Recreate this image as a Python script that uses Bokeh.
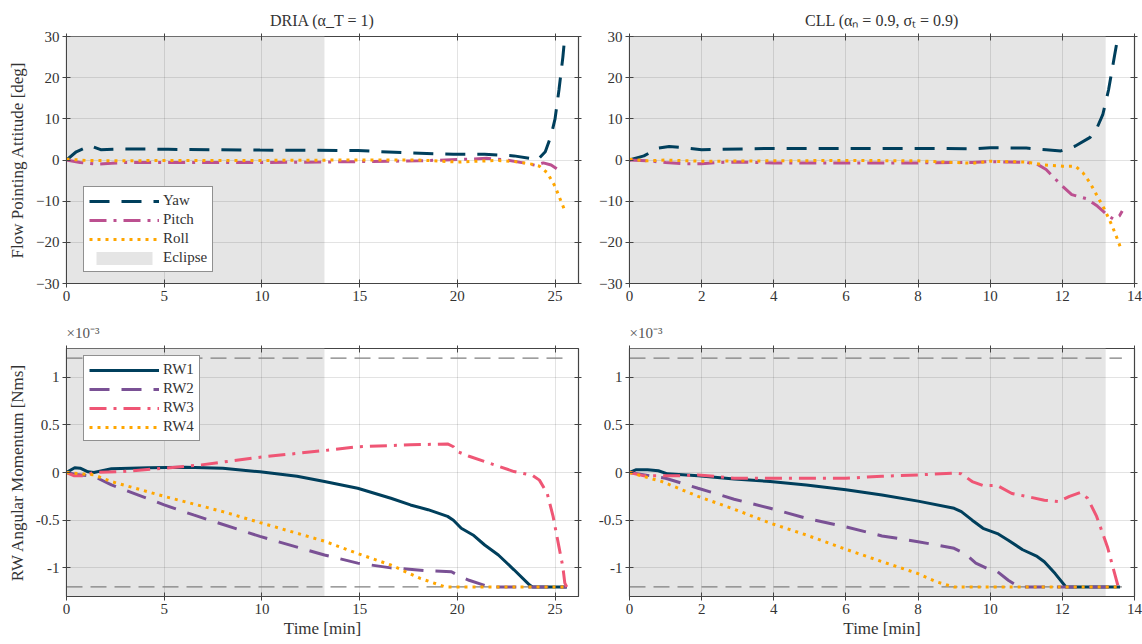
from bokeh.plotting import figure
from bokeh.models import (Range1d, FixedTicker, LinearAxis, Legend, LegendItem, Title)
from bokeh.layouts import column, row
from bokeh.embed import file_html
from bokeh.resources import INLINE

# ---------------- data ----------------
# Flow pointing attitude [deg] -- DRIA
dria_yaw_t = [0, 0.5, 1.2, 1.75, 2.9, 5.2, 9.9, 14.9, 17.6, 19.8, 21.4, 22.9, 23.8, 24.1, 24.5, 24.8, 25.0, 25.2, 25.4, 25.5, 25.6]
dria_yaw = [0, 2.0, 3.5, 2.5, 2.7, 2.6, 2.4, 2.3, 1.7, 1.4, 1.4, 1.0, 0.3, 0.0, 2.0, 6.0, 10.0, 17.0, 25.0, 30.0, 34.0]
dria_pitch_t = [0, 0.7, 1.5, 2.3, 3, 5, 10, 13, 15, 18, 20, 21.5, 22.5, 23.5, 24.0, 24.4, 24.8, 25.3]
dria_pitch = [0, -0.6, -1.0, -0.8, -0.6, -0.6, -0.6, -0.5, -0.4, -0.2, 0.1, 0.4, 0.0, -0.8, -1.3, -0.7, -1.2, -2.8]
dria_roll_t = [0, 1, 3, 5, 10, 15, 18, 20, 21, 22, 23, 23.8, 24.2, 24.6, 25.0, 25.2, 25.5]
dria_roll = [0.2, -0.1, -0.2, -0.1, -0.1, 0, 0, -0.5, -0.3, -0.1, -0.4, -1.0, -1.5, -3.1, -6.4, -8.8, -12.3]

# Flow pointing attitude [deg] -- CLL
cll_yaw_t = [0, 0.4, 0.8, 1.1, 1.4, 2.0, 2.4, 3.9, 6.5, 8.5, 9.5, 10.0, 11.0, 11.55, 11.96, 12.36, 12.77, 12.97, 13.12, 13.28, 13.44, 13.54, 13.6]
cll_yaw = [0, 1.0, 2.9, 3.3, 3.1, 2.5, 2.6, 2.8, 2.8, 2.8, 2.7, 3.0, 2.9, 2.5, 2.2, 3.4, 5.5, 8.0, 11, 17, 25, 30, 34]
cll_pitch_t = [0, 0.5, 1.0, 1.5, 2.0, 2.5, 3.0, 4, 6, 8, 9.5, 10, 10.5, 11, 11.3, 11.55, 11.96, 12.26, 12.67, 12.97, 13.28, 13.43, 13.58, 13.66]
cll_pitch = [0, -0.2, -0.6, -0.9, -0.9, -0.6, -0.5, -0.7, -0.7, -0.7, -0.6, -0.4, -0.5, -0.6, -1.0, -2.3, -6.0, -8.4, -9.4, -11.2, -13.6, -14.4, -13.6, -12.4]
cll_roll_t = [0, 0.5, 1, 2, 4, 6, 8, 9.5, 10, 11, 11.5, 12, 12.36, 12.57, 12.77, 12.97, 13.17, 13.38, 13.53, 13.63]
cll_roll = [0.2, -0.2, 0, -0.3, -0.2, -0.1, -0.2, -0.8, -0.3, -0.5, -1.2, -1.5, -1.5, -3.1, -5.6, -8.8, -12, -16, -19.3, -21.7]

# RW angular momentum [x1e-3 Nms] -- DRIA
dria_rw1_t = [0, 0.42, 0.7, 1.1, 1.4, 2.3, 4.2, 6.1, 8.0, 9.9, 11.8, 13.2, 14.9, 16.6, 17.6, 18.5, 19.5, 19.8, 20.2, 20.8, 21.4, 22.1, 22.9, 23.7, 23.85, 25.6]
dria_rw1 = [0, 0.05, 0.045, 0.007, 0, 0.04, 0.05, 0.055, 0.045, 0.007, -0.04, -0.095, -0.165, -0.27, -0.34, -0.39, -0.46, -0.5, -0.585, -0.655, -0.76, -0.865, -1.02, -1.18, -1.2, -1.2]
dria_rw2_t = [0, 0.5, 1.4, 2.3, 5.0, 6.5, 9.9, 13.2, 14.9, 16.6, 18.5, 19.7, 20.0, 20.6, 21.2, 21.6, 25.6]
dria_rw2 = [0, -0.02, -0.04, -0.13, -0.34, -0.445, -0.67, -0.865, -0.95, -1.0, -1.03, -1.04, -1.075, -1.13, -1.17, -1.2, -1.2]
dria_rw3_t = [0, 0.4, 0.9, 1.4, 2.9, 5.0, 6.9, 9.9, 13.2, 14.9, 17.6, 19.5, 19.8, 20.0, 20.6, 21.4, 22.9, 23.85, 24.2, 24.6, 24.9, 25.2, 25.4, 25.5, 25.6]
dria_rw3 = [0, -0.035, -0.035, 0, 0.01, 0.045, 0.08, 0.16, 0.23, 0.27, 0.29, 0.3, 0.27, 0.22, 0.17, 0.115, 0.01, -0.03, -0.08, -0.22, -0.46, -0.78, -0.99, -1.16, -1.2]
dria_rw4_t = [0, 1.4, 2.3, 5.0, 8.0, 9.9, 13.2, 14.9, 16.6, 18.1, 19.1, 19.4, 25.6]
dria_rw4 = [0, -0.025, -0.095, -0.25, -0.41, -0.525, -0.72, -0.85, -0.97, -1.11, -1.18, -1.2, -1.2]

# RW angular momentum [x1e-3 Nms] -- CLL
cll_rw1_t = [0, 0.19, 0.5, 0.8, 1.05, 1.9, 2.9, 3.9, 4.9, 6.0, 7.0, 8.0, 9.0, 9.2, 9.5, 9.8, 10.2, 10.5, 10.9, 11.3, 11.5, 11.8, 12.1, 13.6]
cll_rw1 = [0, 0.03, 0.03, 0.018, -0.014, -0.035, -0.067, -0.095, -0.13, -0.18, -0.235, -0.3, -0.375, -0.41, -0.5, -0.585, -0.64, -0.71, -0.81, -0.88, -0.935, -1.06, -1.2, -1.2]
cll_rw2_t = [0, 1.0, 1.9, 2.9, 3.9, 4.9, 6.0, 7.0, 8.0, 9.0, 9.3, 9.6, 10.0, 10.2, 10.5, 10.8, 13.6]
cll_rw2 = [0, -0.06, -0.165, -0.28, -0.375, -0.48, -0.57, -0.665, -0.725, -0.795, -0.85, -0.95, -1.02, -1.04, -1.13, -1.2, -1.2]
cll_rw3_t = [0, 0.4, 1.4, 1.9, 2.9, 3.9, 4.9, 6.0, 7.0, 8.0, 9.0, 9.2, 9.5, 9.8, 10.2, 10.6, 11.0, 11.5, 11.9, 12.2, 12.5, 12.7, 12.95, 13.25, 13.45, 13.55, 13.6]
cll_rw3 = [0, -0.035, -0.035, -0.025, -0.06, -0.06, -0.06, -0.06, -0.04, -0.025, -0.007, -0.014, -0.095, -0.137, -0.137, -0.22, -0.25, -0.29, -0.305, -0.25, -0.21, -0.27, -0.46, -0.78, -1.06, -1.2, -1.2]
cll_rw4_t = [0, 0.9, 1.9, 2.9, 3.9, 4.9, 6.0, 7.0, 8.0, 8.5, 8.9, 9.0, 13.6]
cll_rw4 = [0, -0.095, -0.25, -0.385, -0.53, -0.655, -0.805, -0.935, -1.06, -1.145, -1.19, -1.2, -1.2]

eclipse_end = [13.2, 13.2]          # min, DRIA / CLL
sim_end = [25.6, 13.65]             # min, DRIA / CLL
rw_limit = 1.2                      # x1e-3 Nms
x_max = [26.2, 14.0]
att_lim = [-30, 30]
rw_lim = [-1.3, 1.3]
x_ticks = [[0, 5, 10, 15, 20, 25], [0, 2, 4, 6, 8, 10, 12, 14]]
att_ticks = [-30, -20, -10, 0, 10, 20, 30]
rw_ticks = [-1, -0.5, 0, 0.5, 1]
rw_tick_labels = {-1: "-1", -0.5: "-0.5", 0: "0", 0.5: "0.5", 1: "1"}
titles = ["DRIA (α_T = 1)", "CLL (αₙ = 0.9, σₜ = 0.9)"]

# ---------------- style ----------------
FONT = "Liberation Serif"
TXT = "#333333"
C_NAVY, C_MAG, C_ORG, C_PUR, C_PINK = "#003f5c", "#bc5090", "#ffa600", "#7a5195", "#ef5675"
DASH, DASHDOT, DOT = "20 12", "17 7 3 7", "3 5"
LW = 3


def mirror_axis(ticker):
    return LinearAxis(ticker=ticker, major_label_text_font_size="1px",
                      major_label_text_color=None, axis_line_color=None,
                      major_tick_in=4, major_tick_out=3, major_tick_line_color="#444444",
                      minor_tick_line_color=None, major_label_standoff=0)


def make_fig(col, top, width, height, mb):
    yl = att_lim if top else rw_lim
    p = figure(width=width, height=height, x_range=Range1d(0, x_max[col]),
               y_range=Range1d(yl[0], yl[1]), output_backend="svg",
               toolbar_location=None, min_border_left=mb[0], min_border_right=mb[1],
               min_border_top=mb[2], min_border_bottom=mb[3],
               background_fill_color="white", border_fill_color="white",
               outline_line_color="#444444", outline_line_width=1.2)
    if top:
        p.title.text = titles[col]
        p.title.align = "center"
        p.title.text_font = FONT
        p.title.text_font_size = "16px"
        p.title.text_font_style = "normal"
        p.title.text_color = TXT
    xt = FixedTicker(ticks=x_ticks[col])
    yt = FixedTicker(ticks=att_ticks if top else rw_ticks)
    p.xaxis.ticker = xt
    p.yaxis.ticker = yt
    p.xgrid.ticker = xt
    p.ygrid.ticker = yt
    p.grid.grid_line_color = "#262626"
    p.grid.grid_line_alpha = 0.13
    for ax in p.axis:
        ax.axis_line_color = "#444444"
        ax.major_tick_line_color = "#444444"
        ax.major_tick_in = 4
        ax.major_tick_out = 4
        ax.minor_tick_line_color = None
        ax.major_label_text_font = FONT
        ax.major_label_text_font_size = "15px"
        ax.major_label_text_color = TXT
        ax.major_label_standoff = 3
        ax.axis_label_text_font = FONT
        ax.axis_label_text_font_size = "17px"
        ax.axis_label_text_font_style = "normal"
        ax.axis_label_text_color = TXT
        ax.axis_label_standoff = 6
    if not top:
        p.yaxis.major_label_overrides = rw_tick_labels
        p.xaxis.axis_label = "Time [min]"
        p.xaxis.axis_label_standoff = 2
    if col == 0:
        p.yaxis.axis_label = "Flow Pointing Attitude [deg]" if top else "RW Angular Momentum [Nms]"
    p.add_layout(mirror_axis(xt), "above")
    p.add_layout(mirror_axis(yt), "right")
    if not top:
        p.add_layout(Title(text="×10⁻³", align="left", text_font=FONT, text_font_size="15px",
                           text_font_style="normal", text_color="#555555"), "above")
    # eclipse band
    ecl = p.quad(left=[0], right=[eclipse_end[col]], bottom=[yl[0]], top=[yl[1]],
                 fill_color="#e5e5e5", line_color=None, level="image")
    return p, ecl


# Figures
pa, ea = make_fig(0, True, 590, 312, (66, 12, 36, 29))
pb, eb = make_fig(1, True, 552, 312, (39, 8, 36, 29))
pc, ec = make_fig(0, False, 590, 332, (66, 12, 36, 48))
pd, ed = make_fig(1, False, 552, 332, (39, 8, 36, 48))

# attitude lines
att_data = [(pa, ea, dria_yaw_t, dria_yaw, dria_pitch_t, dria_pitch, dria_roll_t, dria_roll),
            (pb, eb, cll_yaw_t, cll_yaw, cll_pitch_t, cll_pitch, cll_roll_t, cll_roll)]
for i, (p, e, yt_, yv, pt_, pv, rt_, rv) in enumerate(att_data):
    r1 = p.line(yt_, yv, line_color=C_NAVY, line_width=LW, line_dash=DASH)
    r2 = p.line(pt_, pv, line_color=C_MAG, line_width=LW, line_dash=DASHDOT)
    r3 = p.line(rt_, rv, line_color=C_ORG, line_width=LW, line_dash=DOT)
    if i == 0:
        leg = Legend(items=[LegendItem(label="Yaw", renderers=[r1]),
                            LegendItem(label="Pitch", renderers=[r2]),
                            LegendItem(label="Roll", renderers=[r3]),
                            LegendItem(label="Eclipse", renderers=[e])],
                     location=(17, 11))
        p.add_layout(leg)

rw_data = [(pc, ec, 0, dria_rw1_t, dria_rw1, dria_rw2_t, dria_rw2, dria_rw3_t, dria_rw3, dria_rw4_t, dria_rw4),
           (pd, ed, 1, cll_rw1_t, cll_rw1, cll_rw2_t, cll_rw2, cll_rw3_t, cll_rw3, cll_rw4_t, cll_rw4)]
for i, (p, e, col, t1, v1, t2, v2, t3, v3, t4, v4) in enumerate(rw_data):
    for s in (1, -1):
        p.line([0, sim_end[col]], [s * rw_limit, s * rw_limit], line_color="#7f7f7f",
               line_width=1.2, line_dash="16 8")
    r1 = p.line(t1, v1, line_color=C_NAVY, line_width=LW)
    r2 = p.line(t2, v2, line_color=C_PUR, line_width=LW, line_dash=DASH)
    r3 = p.line(t3, v3, line_color=C_PINK, line_width=LW, line_dash=DASHDOT)
    r4 = p.line(t4, v4, line_color=C_ORG, line_width=LW, line_dash=DOT)
    if i == 0:
        leg = Legend(items=[LegendItem(label="RW1", renderers=[r1]),
                            LegendItem(label="RW2", renderers=[r2]),
                            LegendItem(label="RW3", renderers=[r3]),
                            LegendItem(label="RW4", renderers=[r4])],
                     location=(17, 155))
        p.add_layout(leg)

for p in (pa, pc):
    lg = p.legend[0]
    lg.border_line_color = "#222222"
    lg.border_line_width = 1.5
    lg.background_fill_color = "white"
    lg.background_fill_alpha = 1
    lg.label_text_font = FONT
    lg.label_text_font_size = "15px"
    lg.label_text_color = TXT
    lg.glyph_width = 70
    lg.glyph_height = 16
    lg.label_height = 16
    lg.label_standoff = 4
    lg.spacing = 2
    lg.padding = 5
    lg.margin = 0

layout = column(row(pa, pb), row(pc, pd))
open("out.html", "w").write(file_html(layout, INLINE))
